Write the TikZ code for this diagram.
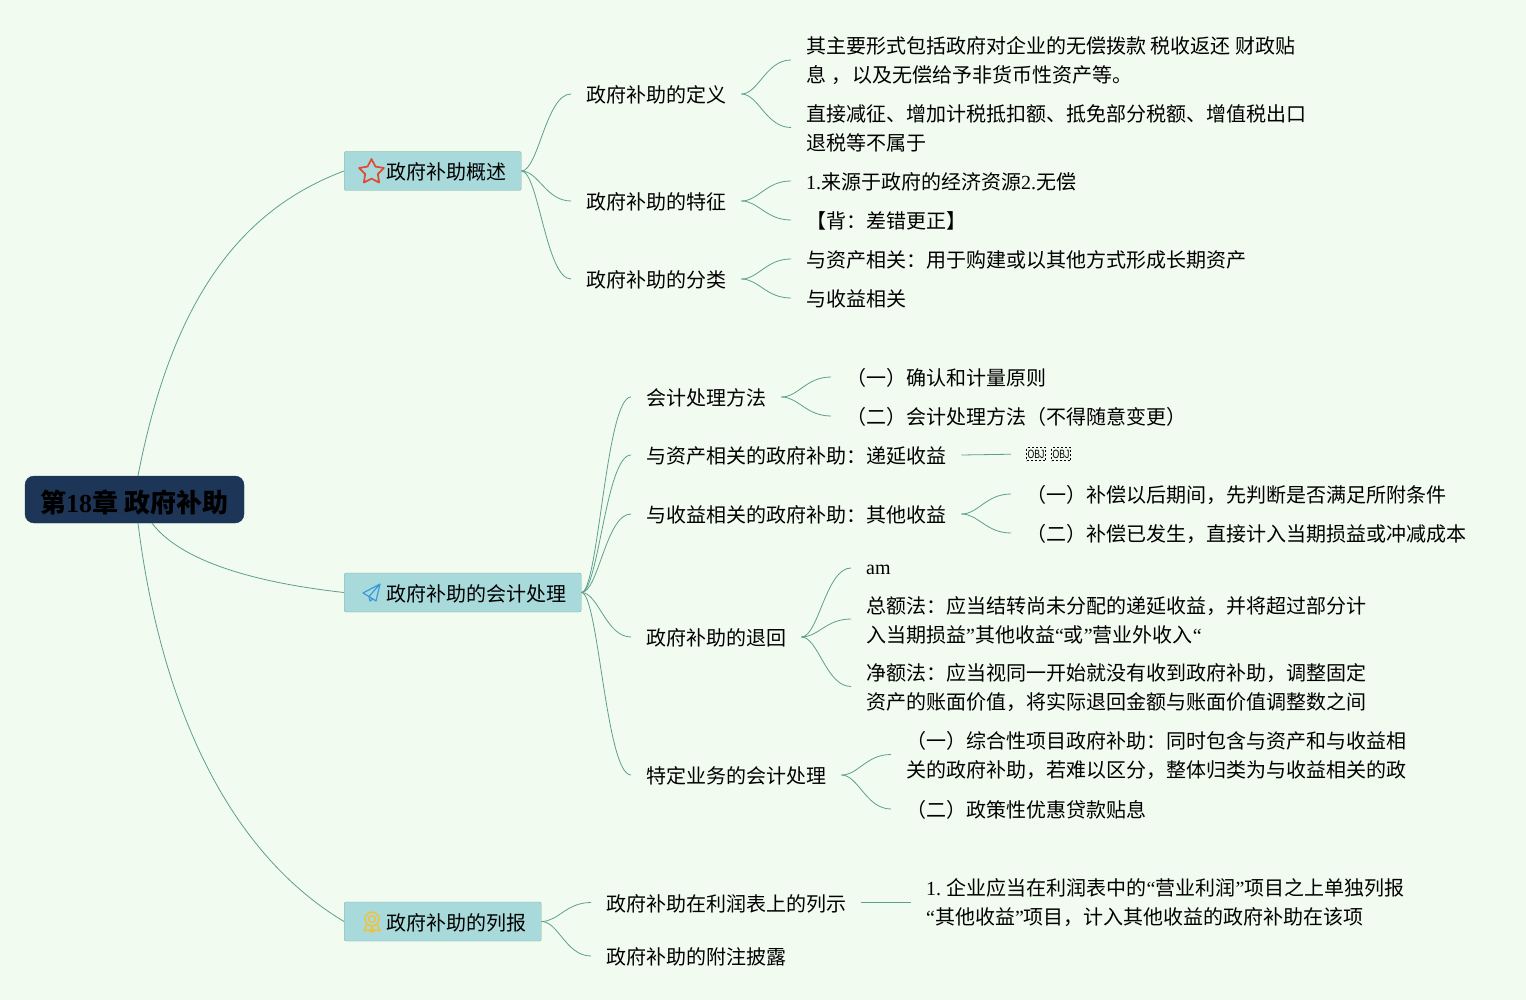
\documentclass[tikz,border=0pt]{standalone}
\usepackage{fontspec}
\setmainfont{Noto Sans CJK SC}
\newfontfamily\latfont{Liberation Serif}
\newfontfamily\objfont{Liberation Sans}
\newcommand{\lat}[1]{{\latfont #1}}
\newcommand{\objtext}{\scalebox{0.72}[1]{OBJ}}
\newcommand{\topfix}{\rule{0pt}{22pt}}
\newcommand{\botfix}{\rule[-5pt]{0pt}{5pt}}
\usetikzlibrary{shapes.geometric}
\definecolor{pagebg}{HTML}{F1FBF0}
\definecolor{rootfill}{HTML}{1D3557}
\definecolor{topicfill}{HTML}{A8DADC}
\definecolor{linkline}{HTML}{5F9F8F}
\definecolor{staricon}{HTML}{E2492F}
\definecolor{planeicon}{HTML}{3A9AD9}
\definecolor{medalicon}{HTML}{F0C23C}
\tikzset{
  linefix/.style={execute at begin node={\rule[-3pt]{0pt}{23pt}}, execute at end node={\rule[-3pt]{0pt}{0pt}}},
  root/.style={anchor=center, fill=rootfill, draw=rootfill, rounded corners=9pt, minimum width=219pt, minimum height=47pt, inner sep=0pt, font=\fontsize{26}{30}\selectfont\bfseries},
  topic/.style={anchor=west, fill=topicfill, draw=linkline!80, rounded corners=2pt, minimum height=39pt, inner xsep=15pt, inner ysep=0pt, font=\fontsize{20}{29}\selectfont, linefix},
  item/.style={anchor=west, inner xsep=15pt, inner ysep=0pt, align=left, font=\fontsize{20}{29}\selectfont, linefix},
  objbox/.style={draw, dash pattern=on 2pt off 2pt, line width=0.9pt, minimum width=19pt, minimum height=13pt, inner sep=0pt, font=\objfont\fontsize{12}{12}\selectfont},
  link/.style={draw=linkline, line width=0.8pt}
}
\begin{document}
\begin{tikzpicture}[x=1pt, y=-1pt]
  \fill[pagebg] (0,0) rectangle (1526,1000);
  \useasboundingbox (0,0) rectangle (1526,1000);
  % centre and topics
  \node[root] (root) at (134.5,499.5) {\rule[-3pt]{0pt}{31pt}第\lat{18}章\hspace{7pt}政府补助};
  \node[topic] (over) at (344,171) {\hspace*{27pt}政府补助概述};
  \node[topic] (acct) at (344,592.5) {\hspace*{27pt}政府补助的会计处理};
  \node[topic] (rept) at (344,921.5) {\hspace*{27pt}政府补助的列报};
  % overview
  \node[item] (defn) at (571,94) {政府补助的定义};
  \node[item] (feat) at (571,201) {政府补助的特征};
  \node[item] (kind) at (571,279) {政府补助的分类};
  \node[item] (defa) at (791,60) {\topfix 其主要形式包括政府对企业的无偿拨款 税收返还 财政贴\\息\hspace{5pt}，\hspace{1pt}以及无偿给予非货币性资产等。\botfix};
  \node[item] (defb) at (791,127.5) {\topfix 直接减征、增加计税抵扣额、抵免部分税额、增值税出口\\退税等不属于\botfix};
  \node[item] (feaa) at (791,181) {\lat{1.}来源于政府的经济资源\lat{2.}无偿};
  \node[item] (feab) at (791,220) {【背：差错更正】};
  \node[item] (kina) at (791,259) {与资产相关：用于购建或以其他方式形成长期资产};
  \node[item] (kinb) at (791,298) {与收益相关};
  % accounting
  \node[item] (meth) at (631,397) {会计处理方法};
  \node[item] (asst) at (631,455) {与资产相关的政府补助：递延收益};
  \node[item] (incm) at (631,514) {与收益相关的政府补助：其他收益};
  \node[item] (back) at (631,637) {政府补助的退回};
  \node[item] (spec) at (631,775) {特定业务的会计处理};
  \node[item] (meta) at (831,377) {（一）确认和计量原则};
  \node[item] (metb) at (831,416) {（二）会计处理方法（不得随意变更）};
  \node[objbox] (obja) at (1036,454) {\objtext};
  \node[objbox] (objb) at (1061,454) {\objtext};
  \node[item] (inca) at (1011,494) {（一）补偿以后期间，先判断是否满足所附条件};
  \node[item] (incb) at (1011,533) {（二）补偿已发生，直接计入当期损益或冲减成本};
  \node[item] (baca) at (851,568) {\raisebox{2pt}{\lat{am}}};
  \node[item] (bacb) at (851,619) {\topfix 总额法：应当结转尚未分配的递延收益，并将超过部分计\\入当期损益\lat{”}其他收益\lat{“}或\lat{”}营业外收入\lat{“}\botfix};
  \node[item] (bacc) at (851,686.5) {\topfix 净额法：应当视同一开始就没有收到政府补助，调整固定\\资产的账面价值，将实际退回金额与账面价值调整数之间\botfix};
  \node[item] (spea) at (891,754.5) {\topfix（一）综合性项目政府补助：同时包含与资产和与收益相\\关的政府补助，若难以区分，整体归类为与收益相关的政\botfix};
  \node[item] (speb) at (891,809) {（二）政策性优惠贷款贴息};
  % reporting
  \node[item] (prof) at (591,902.5) {政府补助在利润表上的列示};
  \node[item] (note) at (591,956) {政府补助的附注披露};
  \node[item] (prfa) at (911,901.5) {\topfix\lat{1.}\hspace{5.5pt}企业应当在利润表中的\lat{“}营业利润\lat{”}项目之上单独列报\\\lat{“}其他收益\lat{”}项目，计入其他收益的政府补助在该项\botfix};
  % icons
  \node[star, star points=5, star point ratio=1.95, draw=staricon, line width=1.7pt, line join=round, inner sep=0pt, minimum size=26pt] (stariconnode) at (371.5,172) {};
  \draw[line width=1.2pt, draw=planeicon, line join=round] (380,584) -- (363,593) -- (369,596.5) -- cycle (369,596.5) -- (376,601) -- (380,584) (369,596.5) -- (370,601) -- (373,599);
  \draw[line width=1.5pt, draw=medalicon, line join=round] (372,919) circle (7) (372,919) circle (3.5)
    (367,924) -- (364,931) -- (369,930) -- (371,932) -- (372,926.5) -- (373,932) -- (375,930) -- (380,931) -- (377,924);
  % connectors
  \draw[link] ([xshift=3.5pt]root.north) .. controls (172,300) and (240,210) .. (over.west);
  \draw[link] ([xshift=17.5pt]root.south) .. controls (180,560) and (250,582) .. (acct.west);
  \draw[link] ([xshift=3.5pt]root.south) .. controls (160,700) and (225,850) .. (rept.west);
  \foreach \a/\b in {over/defn,over/feat,over/kind,defn/defa,defn/defb,feat/feaa,feat/feab,kind/kina,kind/kinb,
    acct/meth,acct/asst,acct/incm,acct/back,acct/spec,meth/meta,meth/metb,incm/inca,incm/incb,
    back/baca,back/bacb,back/bacc,spec/spea,spec/speb,rept/prof,rept/note}
    \draw[link] (\a.east) .. controls +(17,0) and +(-25,0) .. (\b.west);
  \draw[link, shorten >=15pt] (asst.east) -- (obja.west);
  \draw[link] (prof.east) -- (prof.east -| prfa.west);
\end{tikzpicture}
\end{document}
